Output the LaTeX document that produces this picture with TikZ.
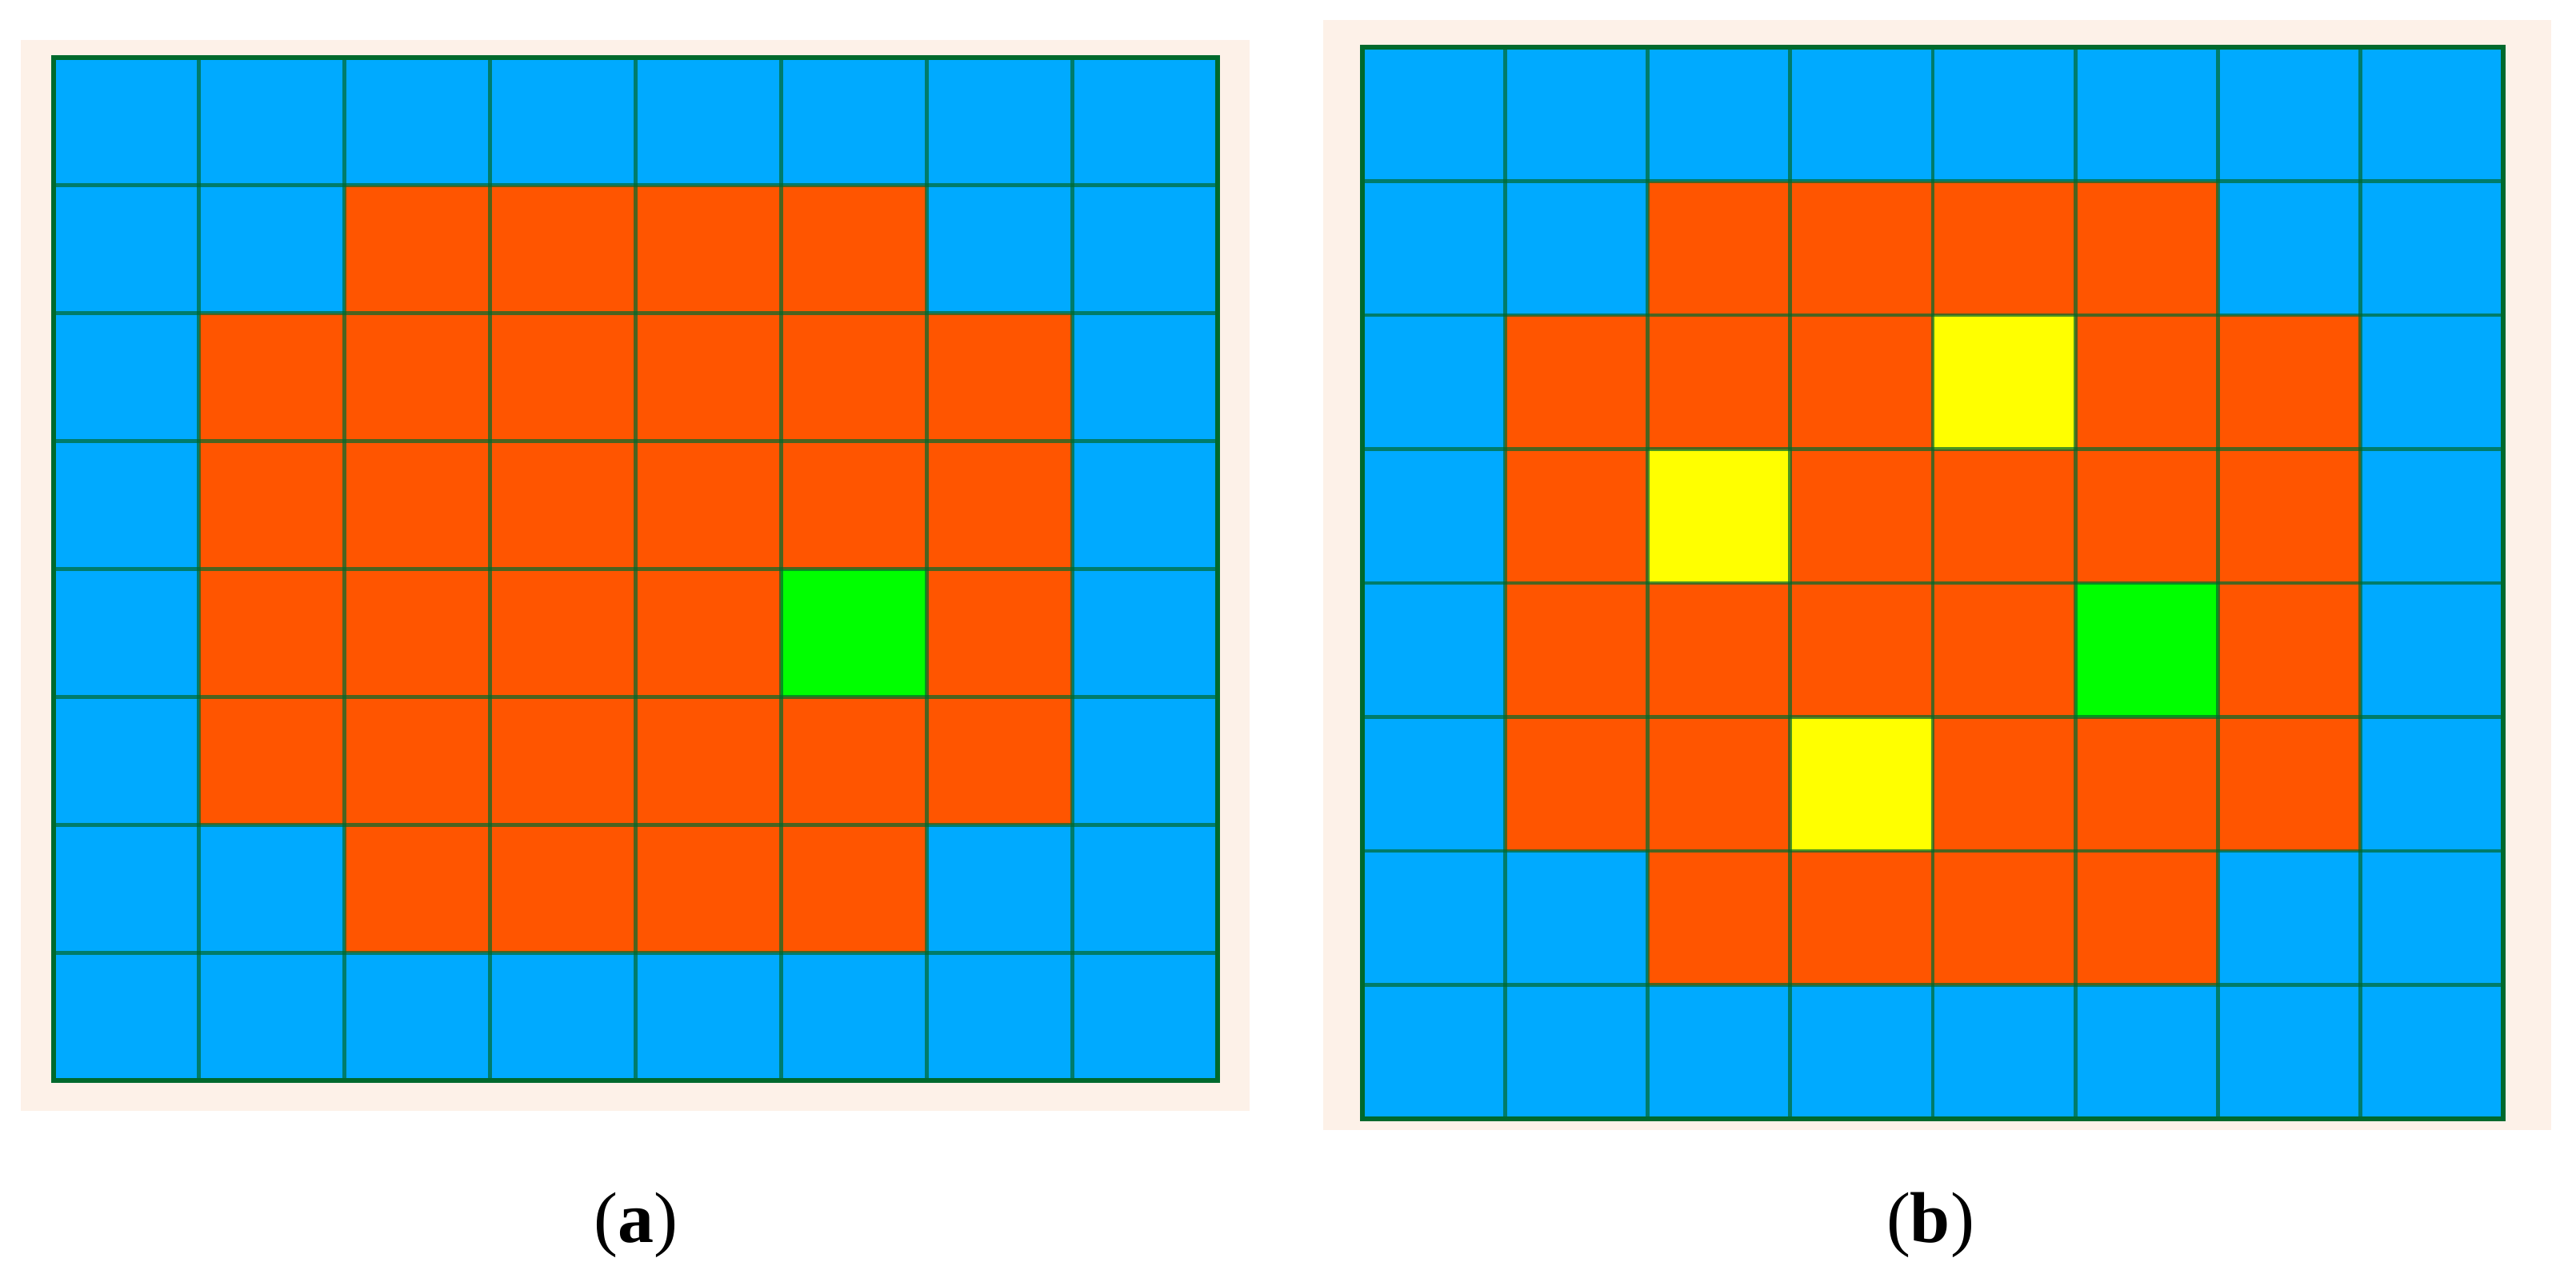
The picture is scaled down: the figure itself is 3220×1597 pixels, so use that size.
\documentclass[tikz,border=0pt]{standalone}
\usepackage{fontspec}
\setmainfont{Liberation Serif}
\definecolor{cblue}{RGB}{0,170,255}
\definecolor{corange}{RGB}{255,85,0}
\definecolor{cgreen}{RGB}{0,255,0}
\definecolor{cyellow}{RGB}{255,255,0}
\definecolor{gline}{RGB}{0,105,45}
\definecolor{bgbeige}{RGB}{253,241,232}
\newcommand{\capfont}{\fontsize{45}{50}\selectfont}
\begin{document}
\begin{tikzpicture}[x=0.5pt,y=-0.5pt,
  gridline/.style={draw=gline, draw opacity=0.7, line width=2.4pt},
  gridborder/.style={draw=gline, line width=2.8pt},
  capnode/.style={anchor=base, inner sep=0pt}]
\useasboundingbox (0,0) rectangle (3220,1597);
\fill[bgbeige] (26,50) rectangle (1562,1389);
\fill[bgbeige] (1654,25) rectangle (3189,1413);
% panel (a)
\begin{scope}[shift={(33.5pt,-36pt)}, x=90.9375pt, y=-79.9375pt]
  \fill[cblue] (0,0) rectangle (8,8);
  \fill[corange] (2,1) rectangle (6,7);
  \fill[corange] (1,2) rectangle (7,6);
  \fill[cgreen] (5,4) rectangle (6,5);
  \foreach \i in {1,...,7} {
    \draw[gridline] (\i,0) -- (\i,8);
    \draw[gridline] (0,\i) -- (8,\i);
  }
  \draw[gridborder] (0,0) rectangle (8,8);
\end{scope}
% panel (b)
\begin{scope}[shift={(851.5pt,-29.5pt)}, x=89.125pt, y=-83.75pt]
  \fill[cblue] (0,0) rectangle (8,8);
  \fill[corange] (2,1) rectangle (6,7);
  \fill[corange] (1,2) rectangle (7,6);
  \fill[cyellow] (4,2) rectangle (5,3);
  \fill[cyellow] (2,3) rectangle (3,4);
  \fill[cyellow] (3,5) rectangle (4,6);
  \fill[cgreen] (5,4) rectangle (6,5);
  \foreach \i in {1,...,7} {
    \draw[gridline] (\i,0) -- (\i,8);
    \draw[gridline] (0,\i) -- (8,\i);
  }
  \draw[gridborder] (0,0) rectangle (8,8);
\end{scope}
\node[capnode] (laba) at (795,1553) {\capfont(\textbf{a})};
\node[capnode] (labb) at (2413,1553) {\capfont(\textbf{b})};
\end{tikzpicture}
\end{document}
